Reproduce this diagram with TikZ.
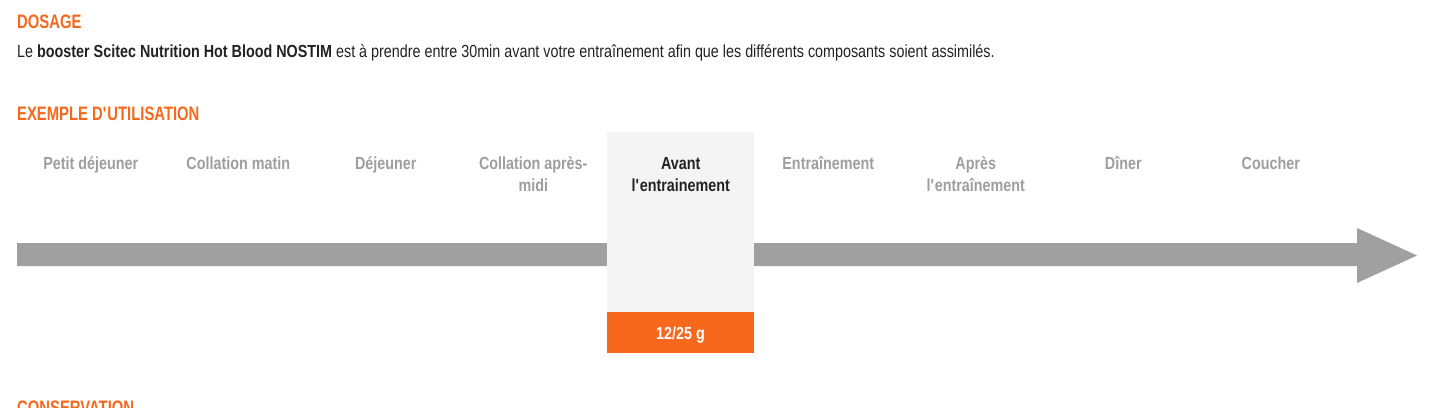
\documentclass[tikz,border=0pt]{standalone}
\usepackage{fontspec}
\setmainfont[FakeStretch=0.82]{Liberation Sans}
\newfontfamily\headfont[FakeStretch=0.76]{Liberation Sans}
\usetikzlibrary{positioning}

\definecolor{dosorange}{RGB}{247,103,28}
\definecolor{bargray}{RGB}{160,160,160}
\definecolor{labelgray}{RGB}{158,158,158}
\definecolor{boxgray}{RGB}{244,244,244}
\definecolor{darktext}{RGB}{34,34,34}

\begin{document}
\begin{tikzpicture}[
            x=1pt, y=-1pt, % one unit is one pixel, y going down
            heading/.style={anchor=base west, inner sep=0, text=dosorange, font=\headfont\fontsize{19.5}{22}\selectfont\bfseries},
            bodytext/.style={anchor=base west, inner sep=0, text=darktext, font=\fontsize{17.5}{20}\selectfont},
            slot/.style={anchor=north, inner sep=0, align=center, font=\fontsize{17.5}{22}\selectfont\bfseries},
            idle/.style={text=labelgray},
            active/.style={text=darktext}
        ]
            \useasboundingbox (0,0) rectangle (1445,407);

            % 1. Headings and the dosage sentence
            \node[heading] (dosage) at (17,28) {DOSAGE};
            \node[bodytext] (intro) at (17,57) {Le \textbf{booster Scitec Nutrition Hot Blood NOSTIM} est à prendre entre 30min avant votre entraînement afin que les différents composants soient assimilés.};
            \node[heading] (exemple) at (17,120) {EXEMPLE D\textquotesingle UTILISATION};

            % 2. The time arrow
            \fill[bargray] (17,243) -- (1357,243) -- (1357,228) -- (1417,255.5)
                -- (1357,283) -- (1357,266) -- (17,266) -- cycle;

            % 3. Highlighted column with the dose
            \fill[boxgray] (607,132) rectangle (754,312);
            \node[fill=dosorange, text=white, minimum width=147pt, minimum height=41pt, inner sep=0,
                text height=13pt, text depth=0pt,
                font=\fontsize{17.5}{18}\selectfont\bfseries] (dose) at (680.5,332.5) {12/25 g};

            % 4. Moments of the day (a strut keeps every first line on one baseline)
            \foreach \name/\txt/\sty [count=\i from 0] in {
                petit/Petit déjeuner/idle,
                matin/Collation matin/idle,
                dejeuner/Déjeuner/idle,
                apresmidi/Collation après-\\midi/idle,
                avant/Avant\\l\textquotesingle entrainement/active,
                entrainement/Entraînement/idle,
                apres/Après\\l\textquotesingle entraînement/idle,
                diner/Dîner/idle,
                coucher/Coucher/idle}
                \node[slot, \sty] (\name) at (90.75+147.5*\i, 155) {\rule{0pt}{14pt}\txt};

            % 5. Next heading, cut by the page edge
            \node[heading] (conservation) at (17,414) {CONSERVATION};

        \end{tikzpicture}
\end{document}
